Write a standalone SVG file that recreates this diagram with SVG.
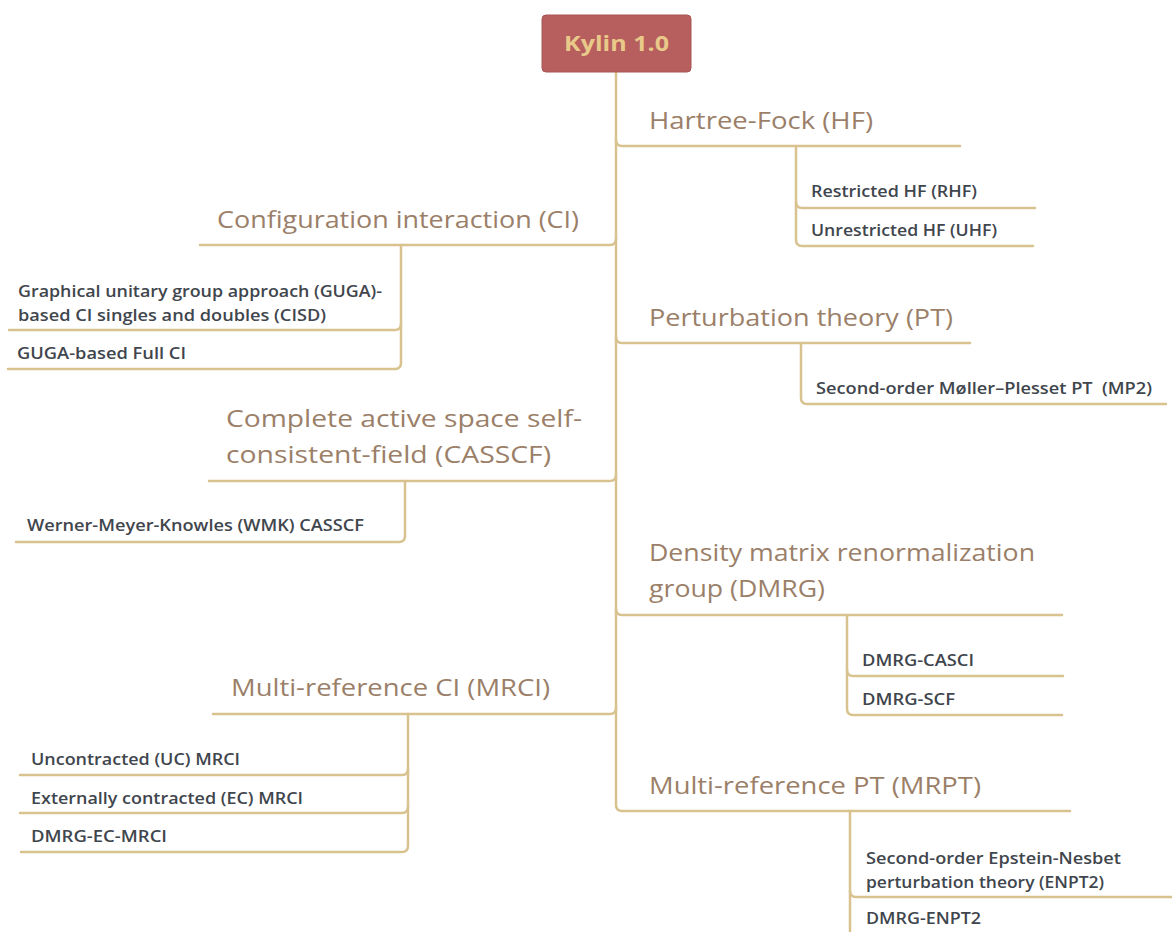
<svg xmlns="http://www.w3.org/2000/svg" width="1172" height="932" viewBox="0 0 1172 932">
<style>
.ln{fill:none;stroke:#d8c28e;stroke-width:2.5;stroke-linecap:round}
.t1{font-family:"Open Sans",Lato,sans-serif;font-size:24px;fill:#9b7f69}
.t2{font-family:"Open Sans",Lato,sans-serif;font-size:16px;font-weight:600;fill:#3f464d}
.rt{font-family:"Open Sans",Lato,sans-serif;font-size:22px;font-weight:bold;fill:#e8c98a}
</style>
<rect width="1172" height="932" fill="#ffffff"/>
<g id="connectors">
<path class="ln" d="M616,72 V805 Q616,811 622,811 H1070"/>
<path class="ln" d="M616,140 Q616,146 622,146 H960"/>
<path class="ln" d="M616,337 Q616,343 622,343 H970"/>
<path class="ln" d="M616,609 Q616,615 622,615 H1062"/>
<path class="ln" d="M616,239 Q616,245 610,245 H200"/>
<path class="ln" d="M616,475 Q616,481 610,481 H209"/>
<path class="ln" d="M616,708 Q616,714 610,714 H213"/>
<path class="ln" d="M796,146 V240 Q796,246 802,246 H1033"/>
<path class="ln" d="M796,202 Q796,208 802,208 H1035"/>
<path class="ln" d="M801,343 V398 Q801,404 807,404 H1166"/>
<path class="ln" d="M847,615 V709 Q847,715 853,715 H1062"/>
<path class="ln" d="M847,670 Q847,676 853,676 H1063"/>
<path class="ln" d="M850,811 V932"/>
<path class="ln" d="M850,891 Q850,897 856,897 H1172"/>
<path class="ln" d="M401,245 V363 Q401,369 395,369 H8"/>
<path class="ln" d="M401,324 Q401,330 395,330 H9"/>
<path class="ln" d="M405,481 V536 Q405,542 399,542 H16"/>
<path class="ln" d="M408,714 V846 Q408,852 402,852 H21"/>
<path class="ln" d="M408,769 Q408,775 402,775 H20"/>
<path class="ln" d="M408,807 Q408,813 402,813 H20"/>
</g>
<g id="root">
<rect x="542" y="15" width="149" height="57" rx="4" fill="#b75e5e" stroke="#a95454" stroke-width="1"/>
<text class="rt" x="564" y="51" textLength="105" lengthAdjust="spacingAndGlyphs">Kylin 1.0</text>
</g>
<g id="hf"><text class="t1" x="649" y="129" textLength="224" lengthAdjust="spacingAndGlyphs">Hartree-Fock (HF)</text></g>
<g id="rhf"><text class="t2" x="811" y="197" textLength="166" lengthAdjust="spacingAndGlyphs">Restricted HF (RHF)</text></g>
<g id="uhf"><text class="t2" x="811" y="236" textLength="186" lengthAdjust="spacingAndGlyphs">Unrestricted HF (UHF)</text></g>
<g id="pt"><text class="t1" x="649" y="326" textLength="304" lengthAdjust="spacingAndGlyphs">Perturbation theory (PT)</text></g>
<g id="mp2"><text class="t2" x="816" y="394" xml:space="preserve" textLength="336" lengthAdjust="spacingAndGlyphs">Second-order Møller–Plesset PT  (MP2)</text></g>
<g id="dmrg"><text class="t1" x="649" y="561" textLength="386" lengthAdjust="spacingAndGlyphs">Density matrix renormalization</text><text class="t1" x="649" y="597" textLength="176" lengthAdjust="spacingAndGlyphs">group (DMRG)</text></g>
<g id="dmrgcasci"><text class="t2" x="862" y="666" textLength="112" lengthAdjust="spacingAndGlyphs">DMRG-CASCI</text></g>
<g id="dmrgscf"><text class="t2" x="862" y="705" textLength="93" lengthAdjust="spacingAndGlyphs">DMRG-SCF</text></g>
<g id="mrpt"><text class="t1" x="649" y="794" textLength="332" lengthAdjust="spacingAndGlyphs">Multi-reference PT (MRPT)</text></g>
<g id="enpt2"><text class="t2" x="866" y="864" textLength="255" lengthAdjust="spacingAndGlyphs">Second-order Epstein-Nesbet</text><text class="t2" x="866" y="888" textLength="238" lengthAdjust="spacingAndGlyphs">perturbation theory (ENPT2)</text></g>
<g id="dmrgenpt2"><text class="t2" x="866" y="924" textLength="115" lengthAdjust="spacingAndGlyphs">DMRG-ENPT2</text></g>
<g id="ci"><text class="t1" x="217" y="228" textLength="362" lengthAdjust="spacingAndGlyphs">Configuration interaction (CI)</text></g>
<g id="cisd"><text class="t2" x="18" y="297" textLength="364" lengthAdjust="spacingAndGlyphs">Graphical unitary group approach (GUGA)-</text><text class="t2" x="18" y="321" textLength="308" lengthAdjust="spacingAndGlyphs">based CI singles and doubles (CISD)</text></g>
<g id="fci"><text class="t2" x="17" y="359" textLength="169" lengthAdjust="spacingAndGlyphs">GUGA-based Full CI</text></g>
<g id="casscf"><text class="t1" x="226" y="427" textLength="356" lengthAdjust="spacingAndGlyphs">Complete active space self-</text><text class="t1" x="226" y="463" textLength="325" lengthAdjust="spacingAndGlyphs">consistent-field (CASSCF)</text></g>
<g id="wmk"><text class="t2" x="27" y="531" textLength="337" lengthAdjust="spacingAndGlyphs">Werner-Meyer-Knowles (WMK) CASSCF</text></g>
<g id="mrci"><text class="t1" x="231" y="696" textLength="319" lengthAdjust="spacingAndGlyphs">Multi-reference CI (MRCI)</text></g>
<g id="ucmrci"><text class="t2" x="31" y="765" textLength="209" lengthAdjust="spacingAndGlyphs">Uncontracted (UC) MRCI</text></g>
<g id="ecmrci"><text class="t2" x="31" y="804" textLength="272" lengthAdjust="spacingAndGlyphs">Externally contracted (EC) MRCI</text></g>
<g id="dmrgecmrci"><text class="t2" x="31" y="842" textLength="136" lengthAdjust="spacingAndGlyphs">DMRG-EC-MRCI</text></g>
</svg>
